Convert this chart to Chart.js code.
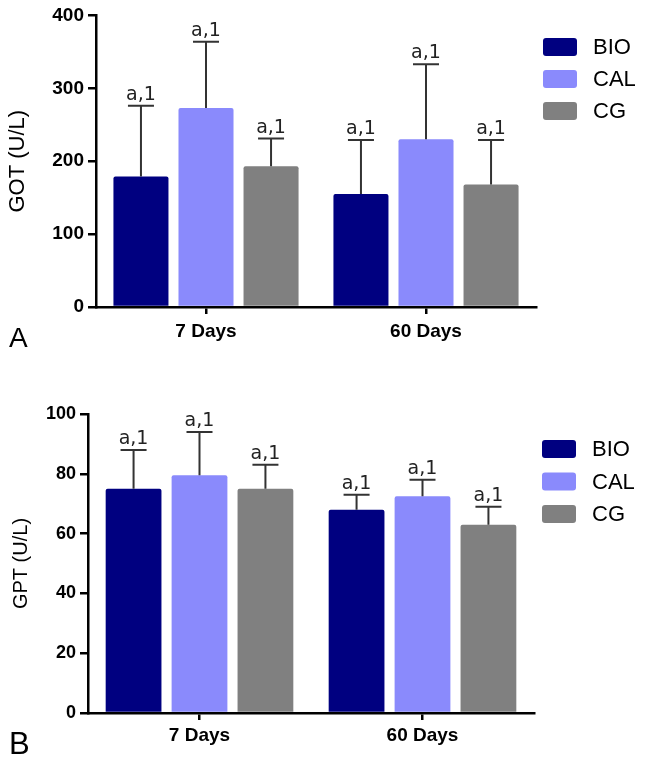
<!DOCTYPE html>
<html>
<head>
<meta charset="UTF-8">
<title>GOT / GPT</title>
<script src="https://cdn.jsdelivr.net/npm/chart.js"></script>
<style>
body { margin: 0; background: #fff; font-family: "Liberation Sans", Arial, sans-serif; }
.panel { position: absolute; left: 0; width: 645px; }
.tag { position: absolute; left: 9px; color: #000; font-family: "Liberation Sans", Arial, sans-serif; }
</style>
</head>
<body>
<div class="panel" style="top:0;height:370px"><canvas id="gotChart" width="645" height="370"></canvas></div>
<div class="panel" style="top:370px;height:391px"><canvas id="gptChart" width="645" height="391"></canvas></div>
<div class="tag" style="top:322px;font-size:28px">A</div>
<div class="tag" style="top:726px;font-size:31px">B</div>

<script>
// data
const groups = ['7 Days', '60 Days'];
const seriesNames = ['BIO', 'CAL', 'CG'];
const seriesColors = ['#000080', '#8a8afc', '#808080'];

const gotBIO = [179, 155];
const gotCAL = [273, 230];
const gotCG  = [193, 168];
const gotBIOsd = [97, 74];
const gotCALsd = [91, 103];
const gotCGsd  = [38, 61];

const gptBIO = [75, 68];
const gptCAL = [79.5, 72.5];
const gptCG  = [75, 63];
const gptBIOsd = [13, 5];
const gptCALsd = [14.5, 5.5];
const gptCGsd  = [8, 6];

const sigBIO = ['a,1', 'a,1'];
const sigCAL = ['a,1', 'a,1'];
const sigCG  = ['a,1', 'a,1'];

const tickFont = "'Liberation Sans', Arial, sans-serif";

// upper error bars + significance letters
const errorBars = {
  id: 'errorBars',
  afterDatasetsDraw(chart) {
    const ctx = chart.ctx;
    const y = chart.scales.y;
    chart.data.datasets.forEach((ds, i) => {
      chart.getDatasetMeta(i).data.forEach((bar, j) => {
        const top = y.getPixelForValue(ds.data[j] + ds.sd[j]);
        ctx.save();
        ctx.strokeStyle = '#333';
        ctx.lineWidth = 2;
        ctx.beginPath();
        ctx.moveTo(bar.x, bar.y);
        ctx.lineTo(bar.x, top);
        ctx.moveTo(bar.x - 13, top);
        ctx.lineTo(bar.x + 13, top);
        ctx.stroke();
        ctx.fillStyle = '#222';
        ctx.font = "19px 'DejaVu Sans', sans-serif";
        ctx.textAlign = 'center';
        ctx.textBaseline = 'alphabetic';
        ctx.fillText(ds.sig[j], bar.x, top - 6);
        ctx.restore();
      });
    });
  }
};

// legend boxes at the right
const sideLegend = {
  id: 'sideLegend',
  afterDraw(chart, args, opts) {
    const ctx = chart.ctx;
    chart.data.datasets.forEach((ds, i) => {
      const by = opts.top + i * opts.step;
      ctx.save();
      ctx.fillStyle = ds.backgroundColor;
      ctx.beginPath();
      ctx.roundRect(opts.left, by, 34, 18, 3);
      ctx.fill();
      ctx.fillStyle = '#000';
      ctx.font = "22px " + tickFont;
      ctx.textBaseline = 'middle';
      ctx.fillText(ds.label, opts.left + 50, by + 10);
      ctx.restore();
    });
  }
};

function makeDatasets(vals, sds, sigs) {
  return seriesNames.map((name, i) => ({
    label: name,
    data: vals[i],
    sd: sds[i],
    sig: sigs[i],
    backgroundColor: seriesColors[i],
    borderRadius: 2,
    borderSkipped: 'bottom',
    categoryPercentage: 0.887,
    barPercentage: 0.846
  }));
}

function makeChart(id, cfg) {
  return new Chart(document.getElementById(id), {
    type: 'bar',
    data: { labels: groups, datasets: makeDatasets(cfg.vals, cfg.sds, cfg.sigs) },
    plugins: [errorBars, sideLegend],
    options: {
      responsive: false,
      animation: false,
      layout: { padding: { left: 0, right: cfg.padRight, top: cfg.padTop, bottom: 0 } },
      plugins: {
        legend: { display: false },
        tooltip: { enabled: false },
        sideLegend: cfg.legend
      },
      scales: {
        x: {
          afterFit: s => { s.height = cfg.xHeight; },
          border: { color: '#000', width: 2.5 },
          grid: { drawOnChartArea: false, offset: false, color: '#000', lineWidth: 2.5, tickLength: 7 },
          ticks: { color: '#000', padding: cfg.xPad, font: { family: tickFont, size: 19, weight: 'bold' } }
        },
        y: {
          min: 0,
          max: cfg.max,
          afterFit: s => { s.width = cfg.yWidth; },
          afterBuildTicks: s => { s.ticks = cfg.ticks.map(v => ({ value: v })); },
          border: { color: '#000', width: 2.5 },
          grid: { drawOnChartArea: false, color: '#000', lineWidth: 2.5, tickLength: 8 },
          ticks: { color: '#000', padding: 4, font: { family: tickFont, size: cfg.tickSize, weight: 'bold' } },
          title: {
            display: true,
            text: cfg.title,
            color: '#000',
            padding: { top: cfg.titlePad, bottom: 0 },
            font: { family: tickFont, size: cfg.titleSize }
          }
        }
      }
    }
  });
}

makeChart('gotChart', {
  vals: [gotBIO, gotCAL, gotCG],
  sds: [gotBIOsd, gotCALsd, gotCGsd],
  sigs: [sigBIO, sigCAL, sigCG],
  max: 400, ticks: [0, 100, 200, 300, 400],
  title: 'GOT (U/L)', titleSize: 22, titlePad: 5, tickSize: 19,
  yWidth: 96, xHeight: 63, padTop: 14, padRight: 109, xPad: 6,
  legend: { left: 543, top: 38, step: 32 }
});

makeChart('gptChart', {
  vals: [gptBIO, gptCAL, gptCG],
  sds: [gptBIOsd, gptCALsd, gptCGsd],
  sigs: [sigBIO, sigCAL, sigCG],
  max: 100, ticks: [0, 20, 40, 60, 80, 100],
  title: 'GPT (U/L)', titleSize: 20, titlePad: 9, tickSize: 18,
  yWidth: 88, xHeight: 48, padTop: 44, padRight: 111, xPad: 4,
  legend: { left: 542, top: 70, step: 32.5 }
});
</script>
</body>
</html>
